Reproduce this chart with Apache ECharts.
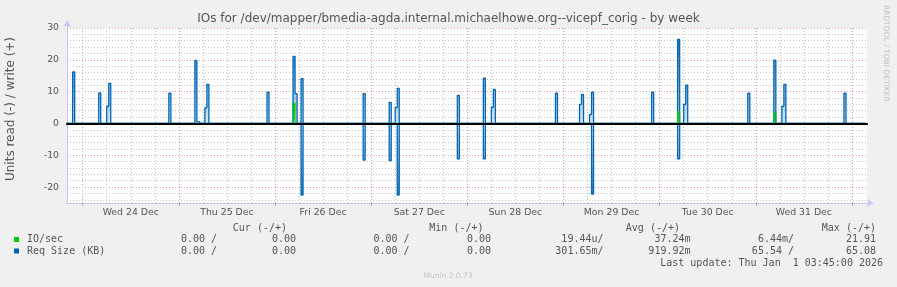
<!DOCTYPE html>
<html>
<head>
<meta charset="UTF-8">
<script src="https://cdn.jsdelivr.net/npm/echarts@6/dist/echarts.min.js"></script>
<style>
	body {
		margin: 0;
		padding: 0;
		background: #f0f0f0;
	}

	#chart {
		width: 897px;
		height: 287px;
	}
</style>
</head>
<body>
<div id="chart"></div>
<script>
	// 30 minute slots (start time, UTC) with a non zero value
	var writeTimes = ['2025-12-23 21:30', '2025-12-24 04:00', '2025-12-24 06:00', '2025-12-24 06:30', '2025-12-24 21:30',
		'2025-12-25 04:00', '2025-12-25 04:30', '2025-12-25 06:30', '2025-12-25 07:00', '2025-12-25 22:00',
		'2025-12-26 04:30', '2025-12-26 05:00', '2025-12-26 06:30', '2025-12-26 22:00',
		'2025-12-27 04:30', '2025-12-27 06:00', '2025-12-27 06:30', '2025-12-27 21:30',
		'2025-12-28 04:00', '2025-12-28 06:00', '2025-12-28 06:30', '2025-12-28 22:00',
		'2025-12-29 04:00', '2025-12-29 04:30', '2025-12-29 06:30', '2025-12-29 07:00', '2025-12-29 22:00',
		'2025-12-30 04:30', '2025-12-30 06:00', '2025-12-30 06:30', '2025-12-30 22:00',
		'2025-12-31 04:30', '2025-12-31 06:30', '2025-12-31 07:00', '2025-12-31 22:00'];
	var writeValues = [16.2, 9.6, 5.4, 12.6, 9.5,
		19.8, 0.6, 4.9, 12.3, 9.8,
		21.1, 9.4, 14.1, 9.4,
		6.6, 5.0, 11.0, 8.8,
		14.2, 5.1, 10.7, 9.5,
		6.0, 9.1, 2.8, 9.8, 9.8,
		26.4, 6.0, 12.0, 9.5,
		19.9, 5.4, 12.3, 9.5];
	var readTimes = ['2025-12-26 06:30', '2025-12-26 22:00', '2025-12-27 04:30', '2025-12-27 06:30',
		'2025-12-27 21:30', '2025-12-28 04:00', '2025-12-29 07:00', '2025-12-30 04:30'];
	var readValues = [-22.5, -11.5, -11.7, -22.5, -11.1, -11.1, -22.2, -11.1];
	var ioTimes = ['2025-12-26 04:30', '2025-12-30 04:30', '2025-12-31 04:30'];
	var ioValues = [6.4, 3.8, 3.5];

	var dayLabels = ['Wed 24 Dec', 'Thu 25 Dec', 'Fri 26 Dec', 'Sat 27 Dec', 'Sun 28 Dec', 'Mon 29 Dec', 'Tue 30 Dec', 'Wed 31 Dec'];

	// legend table
	var legendNames = ['IO/sec', 'Req Size (KB)'];
	var legendColors = ['#00cc00', '#0066b3'];
	var legendHeads = ['Cur (-/+)', 'Min (-/+)', 'Avg (-/+)', 'Max (-/+)'];
	var curText = [['0.00 /', '0.00'], ['0.00 /', '0.00']];
	var minText = [['0.00 /', '0.00'], ['0.00 /', '0.00']];
	var avgText = [['19.44u/', '37.24m'], ['301.65m/', '919.92m']];
	var maxText = [['6.44m/', '21.91'], ['65.54 /', '65.08']];
	var lastUpdate = 'Last update: Thu Jan  1 03:45:00 2026';

	var HOUR = 3600000;
	function utc(s) {
		var p = s.split(/[- :]/);
		return Date.UTC(+p[0], +p[1] - 1, +p[2], +p[3], +p[4]);
	}
	var T0 = utc('2025-12-23 20:05');
	var T1 = utc('2026-01-01 03:45');
	var DAY0 = utc('2025-12-24 00:00');
	var SLOT0 = utc('2025-12-23 20:00');

	// plot box
	var L = 67, TOP = 28, W = 800, H = 175;
	var yMin = -25, yMax = 30;
	var pxH = W / ((T1 - T0) / HOUR);
	var pxU = H / (yMax - yMin);
	var dayLeft = L + (DAY0 - T0) / HOUR * pxH;
	var days = dayLabels.length;

	var minorColor = '#c8c8c8';
	var majorColor = '#e8a0a0';
	var frameColor = '#c4c4f2';
	var textColor = '#555';
	var dash = [1, 2];

	//把稀疏的点补成完整的30分钟序列
	function buildSeries(times, values) {
		var map = {};
		times.forEach(function (t, i) { map[utc(t)] = values[i]; });
		var out = [];
		for (var t = SLOT0; t <= T1; t += HOUR / 2) {
			out.push([t, map[t] || 0]);
		}
		return out;
	}

	function grad(stops) {
		return new echarts.graphic.LinearGradient(0, 0, 0, 1, stops.map(function (c, i) {
			return { offset: i / (stops.length - 1), color: c };
		}));
	}

	var graphics = [];
	// y axis name
	graphics.push({
		type: 'text', x: 11, y: 109, rotation: Math.PI / 2,
		style: { text: 'Units read (-) / write (+)', font: '12px "DejaVu Sans"', fill: textColor, align: 'center', verticalAlign: 'middle' }
	});
	// rrdtool watermark
	graphics.push({
		type: 'text', x: 886, y: 5, rotation: -Math.PI / 2,
		style: { text: 'RRDTOOL / TOBI OETIKER', font: '7.5px "DejaVu Sans"', fill: '#c0c0c0', align: 'left', verticalAlign: 'middle' }
	});
	var mono = '10px "DejaVu Sans Mono"';
	var headRight = [287, 483.5, 680, 876];
	legendHeads.forEach(function (h, i) {
		graphics.push({ type: 'text', x: headRight[i], y: 228, style: { text: h, font: mono, fill: textColor, align: 'right', verticalAlign: 'middle' } });
	});
	var colRight = [217, 296, 409.5, 491, 603.5, 690.5, 794, 876];
	var rowY = [239.5, 251];
	legendNames.forEach(function (name, r) {
		graphics.push({ type: 'rect', shape: { x: 14, y: rowY[r] - 2.5, width: 5, height: 5 }, style: { fill: legendColors[r] } });
		graphics.push({ type: 'text', x: 27, y: rowY[r], style: { text: name, font: mono, fill: textColor, align: 'left', verticalAlign: 'middle' } });
		var cells = [].concat(curText[r], minText[r], avgText[r], maxText[r]);
		cells.forEach(function (c, i) {
			graphics.push({ type: 'text', x: colRight[i], y: rowY[r], style: { text: c, font: mono, fill: textColor, align: 'right', verticalAlign: 'middle' } });
		});
	});
	graphics.push({ type: 'text', x: 883, y: 263.5, style: { text: lastUpdate, font: mono, fill: textColor, align: 'right', verticalAlign: 'middle' } });
	graphics.push({ type: 'text', x: 448, y: 276.5, style: { text: 'Munin 2.0.73', font: '7.5px "DejaVu Sans"', fill: '#c4c4c4', align: 'center', verticalAlign: 'middle' } });

	var hidden = { show: false };
	var chart = echarts.init(document.getElementById('chart'));
	chart.setOption({
		animation: false,
		backgroundColor: '#f0f0f0',
		title: {
			text: 'IOs for /dev/mapper/bmedia-agda.internal.michaelhowe.org--vicepf_corig - by week',
			left: 'center', top: 13, padding: 0,
			textStyle: { fontFamily: 'DejaVu Sans', fontSize: 12, fontWeight: 'normal', color: textColor }
		},
		grid: [
			{ left: L, top: TOP, width: W, height: H, show: true, backgroundColor: '#fff', borderWidth: 0, outerBoundsMode: 'none' },
			{ left: L, top: TOP, width: W, height: (yMax + 24) * pxU, outerBoundsMode: 'none' },
			{ left: L, top: TOP, width: W, height: (yMax + 20) * pxU, outerBoundsMode: 'none' },
			{ left: dayLeft, top: TOP, width: days * 24 * pxH, height: H, outerBoundsMode: 'none' },
			{ left: dayLeft, top: TOP, width: days * 24 * pxH, height: H, outerBoundsMode: 'none' },
			{ left: L, top: 21, width: 806, height: TOP + H - 21, outerBoundsMode: 'none' }
		],
		xAxis: [
			{
				gridIndex: 0, type: 'value', min: T0, max: T1, z: 10,
				axisLine: { show: true, onZero: true, lineStyle: { color: '#000', width: 2 } },
				axisTick: hidden, axisLabel: hidden, splitLine: hidden
			},
			{ gridIndex: 1, type: 'value', show: false },
			{ gridIndex: 2, type: 'value', show: false },
			{
				gridIndex: 3, type: 'value', min: 0, max: days * 24, interval: 24,
				axisLine: hidden, axisLabel: hidden,
				axisTick: { show: true, inside: false, length: 3, lineStyle: { color: majorColor } },
				splitLine: { show: true, lineStyle: { color: majorColor, type: dash } },
				minorTick: { show: false, splitNumber: 4 },
				minorSplitLine: { show: true, lineStyle: { color: minorColor, type: dash } }
			},
			{
				gridIndex: 4, type: 'category', data: dayLabels, boundaryGap: true,
				axisLine: hidden, axisTick: hidden, splitLine: hidden,
				axisLabel: { show: true, color: textColor, fontSize: 9.33, fontFamily: 'DejaVu Sans', margin: 5, interval: 0 }
			},
			{
				gridIndex: 5, type: 'value', min: 0, max: 1,
				axisLine: { show: true, symbol: ['none', 'arrow'], symbolSize: [6, 6], lineStyle: { color: frameColor, width: 1 } },
				axisTick: hidden, axisLabel: hidden, splitLine: hidden
			}
		],
		yAxis: [
			{ gridIndex: 0, type: 'value', min: yMin, max: yMax, show: false },
			{
				gridIndex: 1, type: 'value', min: -24, max: yMax, interval: 2,
				axisLine: hidden, axisTick: hidden, axisLabel: hidden,
				splitLine: { show: true, lineStyle: { color: minorColor, type: dash } }
			},
			{
				gridIndex: 2, type: 'value', min: -20, max: yMax, interval: 10,
				axisLine: hidden, axisTick: hidden,
				axisLabel: { show: true, color: textColor, fontSize: 9.33, fontFamily: 'DejaVu Sans', margin: 8 },
				splitLine: { show: true, lineStyle: { color: majorColor, type: dash } }
			},
			{ gridIndex: 3, type: 'value', min: 0, max: 1, show: false },
			{ gridIndex: 4, type: 'value', min: 0, max: 1, show: false },
			{
				gridIndex: 5, type: 'value', min: 0, max: 1,
				axisLine: { show: true, symbol: ['none', 'arrow'], symbolSize: [6, 6], lineStyle: { color: frameColor, width: 1 } },
				axisTick: hidden, axisLabel: hidden, splitLine: hidden
			}
		],
		series: [
			{
				name: 'Req Size (KB) read', type: 'line', xAxisIndex: 0, yAxisIndex: 0,
				data: buildSeries(readTimes, readValues), step: 'end', symbol: 'none',
				itemStyle: { color: '#0066b3' },
				lineStyle: { color: '#0066b3', width: 1.3 },
				areaStyle: { opacity: 1, color: grad(['rgba(0,102,179,0.15)', 'rgba(0,102,179,0.45)', 'rgba(0,102,179,0.85)']) }
			},
			{
				name: 'Req Size (KB) write', type: 'line', xAxisIndex: 0, yAxisIndex: 0,
				data: buildSeries(writeTimes, writeValues), step: 'end', symbol: 'none',
				itemStyle: { color: '#0066b3' },
				lineStyle: { color: '#0066b3', width: 1.3 },
				areaStyle: { opacity: 1, color: grad(['rgba(0,102,179,0.85)', 'rgba(0,102,179,0.45)', 'rgba(0,102,179,0.15)']) }
			},
			{
				name: 'IO/sec write', type: 'line', xAxisIndex: 0, yAxisIndex: 0,
				data: buildSeries(ioTimes, ioValues), step: 'end', symbol: 'none',
				itemStyle: { color: '#00cc00' },
				lineStyle: { color: '#00cc00', width: 1 },
				areaStyle: { opacity: 1, color: grad(['rgba(0,204,0,1)', 'rgba(0,204,0,0.3)']) }
			}
		],
		graphic: graphics
	});
</script>
</body>
</html>
